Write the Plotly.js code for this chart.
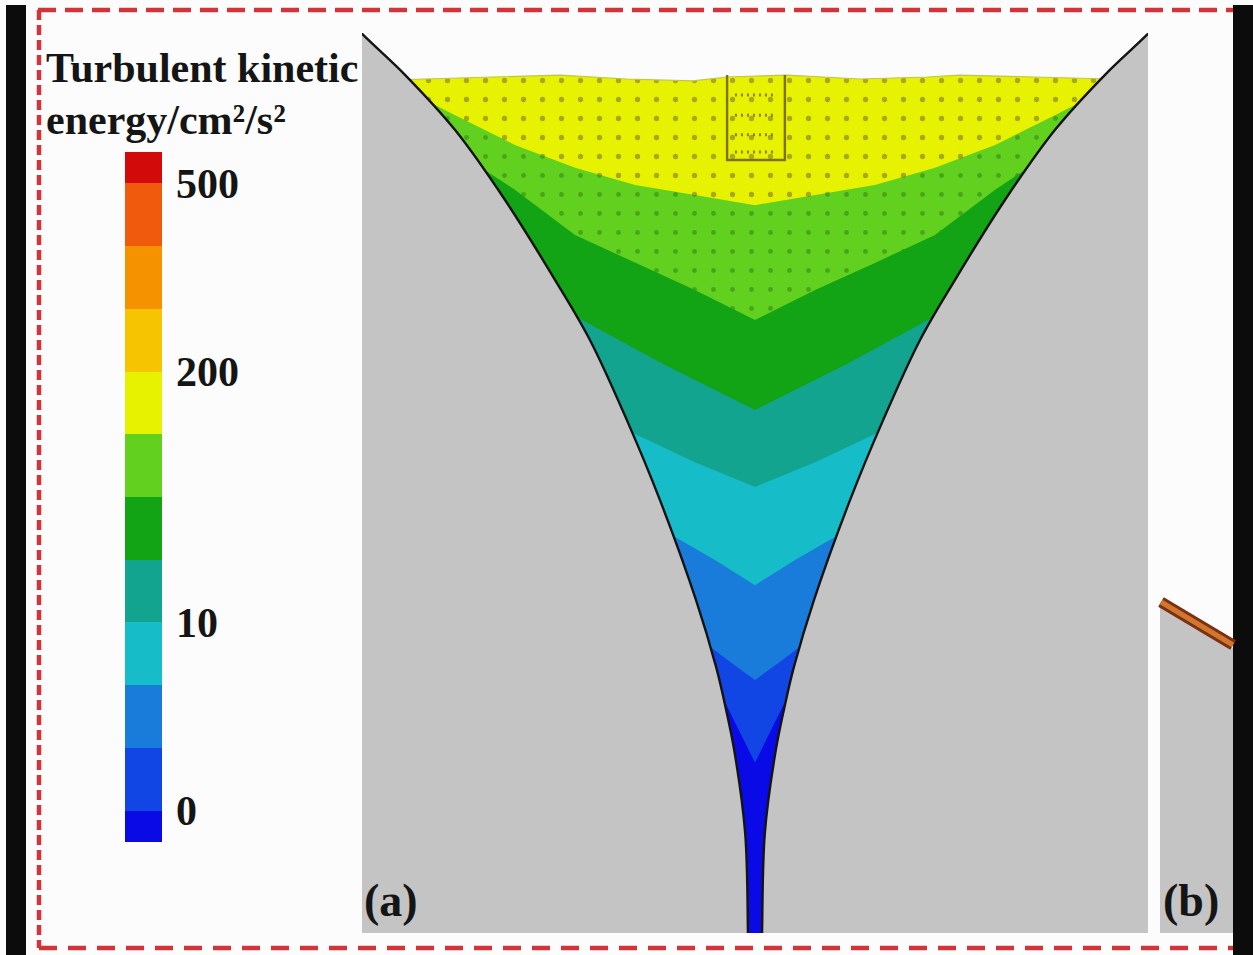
<!DOCTYPE html>
<html>
<head>
<meta charset="utf-8">
<script src="https://cdn.plot.ly/plotly-3.0.1.min.js"></script>
<style>
html,body{margin:0;padding:0;background:#fcfcfc;}
#chart{width:1253px;height:955px;}
</style>
</head>
<body>
<div id="chart"></div>
<script>
// ---------------- DATA ----------------
// Contour level colours of the legend, bottom (lowest) -> top (highest)
const levelColors = ['#0a0ae6', '#1246e4', '#1a7cda', '#16bcc8', '#12a48e', '#12a414',
                     '#62d01e', '#e6f200', '#f6c400', '#f59200', '#f05a0c', '#d20a0a'];
const legendRange = [0, 11];
const legendTickLevels = [0.5, 3.5, 7.5, 10.5];
const legendTickText = ['0', '10', '200', '500'];
const legendTitle1 = 'Turbulent kinetic';
const legendTitle2 = 'energy/cm\u00b2/s\u00b2';

// Vessel wall profile (radius r vs height z, top -> bottom)
const wallR = [11.1, 9.97, 8.90, 7.63, 6.36, 5.09, 4.20, 3.26, 2.42, 1.50, 0.99, 0.79, 0.53, 0.25, 0.18, 0.17];
const wallZ = [24.0, 22.85, 21.83, 20.43, 18.65, 16.62, 15.09, 13.05, 11.02, 8.47, 6.77, 5.93, 4.66, 2.54, 0.0, -1.0];

// Free surface of the liquid
const surfX = [-9.03, -6.67, -4.96, -3.26, -1.58, -0.71, 0.81, 2.67, 4.38, 5.22, 6.92, 9.03];
const surfZ = [21.71, 21.78, 21.83, 21.73, 21.68, 21.78, 21.83, 21.73, 21.78, 21.83, 21.78, 21.73];

// Contour band boundaries (r from axis outward, z)
const b1R = [0, 1.53, 3.05, 4.58, 6.11, 7.63, 8.40];          // light green | yellow
const b1Z = [18.52, 18.78, 19.03, 19.47, 20.05, 20.81, 21.20];
const b2R = [0, 1.53, 3.05, 4.58, 6.11, 6.87, 7.63];          // green | light green
const b2Z = [15.60, 16.36, 17.05, 17.76, 18.91, 19.41, 19.92];
const b3R = [0, 2.29, 4.40, 5.09];                            // teal | green
const b3Z = [13.31, 14.45, 15.60, 15.98];
const b4R = [0, 1.53, 3.00, 3.70];                            // cyan | teal
const b4Z = [11.35, 11.98, 12.67, 13.05];
const b5R = [0, 1.02, 1.90, 2.50];                            // light blue | cyan
const b5Z = [8.85, 9.49, 10.00, 10.31];
const b6R = [0, 0.64, 1.27, 1.70];                            // blue | light blue
const b6Z = [6.44, 6.90, 7.38, 7.71];
const b7R = [0, 0.41, 0.79, 1.15];                            // dark blue | blue
const b7Z = [4.33, 5.17, 5.93, 6.44];

// Impeller box and its inner rows
const boxX = [-0.71, -0.71, 0.76, 0.76];
const boxZ = [21.83, 19.67, 19.67, 21.83];
const rowZ = [21.32, 20.81, 20.31, 19.87];
const rowX = [-0.51, 0.56];

// ---------------- BUILD ----------------
const W = 1253, H = 955;
const px = v => v / W;
const py = v => 1 - v / H;
const FONT = 'Liberation Serif, Times New Roman, serif';

function aboveBoundary(R, Z) {
  const xs = [], zs = [];
  const n = R.length;
  xs.push(-13); zs.push(Z[n - 1]);
  for (let i = n - 1; i >= 1; i--) { xs.push(-R[i]); zs.push(Z[i]); }
  for (let i = 0; i < n; i++) { xs.push(R[i]); zs.push(Z[i]); }
  xs.push(13, 13, -13); zs.push(Z[n - 1], 26, 26);
  return {x: xs, y: zs};
}
function poly(p, color, extra) {
  return Object.assign({type: 'scatter', mode: 'lines', x: p.x, y: p.y, fill: 'toself',
    fillcolor: color, line: {width: 0, color: color}, hoverinfo: 'skip'}, extra || {});
}

const traces = [];
// base (lowest level)
traces.push(poly({x: [-13, 13, 13, -13], y: [-2, -2, 26, 26]}, levelColors[0]));
const bounds = [[b7R, b7Z], [b6R, b6Z], [b5R, b5Z], [b4R, b4Z], [b3R, b3Z], [b2R, b2Z], [b1R, b1Z]];
bounds.forEach((b, i) => {
  const c = levelColors[i + 1];
  let extra = {};
  if (i + 1 === 6) extra = {fillpattern: {shape: '.', size: 19, solidity: 0.05, fgcolor: '#48a418', bgcolor: c, fillmode: 'replace'}};
  if (i + 1 === 7) extra = {fillpattern: {shape: '.', size: 19, solidity: 0.06, fgcolor: '#a8a81e', bgcolor: c, fillmode: 'replace'}};
  traces.push(poly(aboveBoundary(b[0], b[1]), c, extra));
});
// air above the free surface
traces.push({type: 'scatter', mode: 'lines', fill: 'toself', fillcolor: '#fbfcfb',
  x: [-13].concat(surfX, [13, 13, -13]),
  y: [surfZ[0]].concat(surfZ, [surfZ[surfZ.length - 1], 26, 26]),
  line: {width: 1.2, color: '#c4c446'}, hoverinfo: 'skip'});
// grey masks outside the wall
const leftMaskX = [-13].concat(wallR.map(r => -r), [-13]);
const maskZ = [26].concat(wallZ, [-1]);
traces.push({type: 'scatter', mode: 'lines', fill: 'toself', fillcolor: '#c4c4c4',
  x: leftMaskX, y: maskZ, line: {width: 0, shape: 'spline', color: '#c4c4c4'}, hoverinfo: 'skip'});
traces.push({type: 'scatter', mode: 'lines', fill: 'toself', fillcolor: '#c4c4c4',
  x: leftMaskX.map(v => -v), y: maskZ, line: {width: 0, shape: 'spline', color: '#c4c4c4'}, hoverinfo: 'skip'});
// wall lines
traces.push({type: 'scatter', mode: 'lines', x: wallR.map(r => -r), y: wallZ,
  line: {width: 2.4, shape: 'spline', color: '#141414'}, hoverinfo: 'skip'});
traces.push({type: 'scatter', mode: 'lines', x: wallR, y: wallZ,
  line: {width: 2.4, shape: 'spline', color: '#141414'}, hoverinfo: 'skip'});
// impeller box
traces.push({type: 'scatter', mode: 'lines', x: boxX, y: boxZ,
  line: {width: 2.4, color: '#7e7014'}, hoverinfo: 'skip'});
rowZ.forEach(z => traces.push({type: 'scatter', mode: 'lines', x: rowX, y: [z, z],
  line: {width: 3, color: '#8e8218', dash: '2px,4px'}, hoverinfo: 'skip'}));

// colour legend (heatmap kept outside the visible range, only its colour bar shows)
const span = legendRange[1] - legendRange[0];
const cscale = [];
levelColors.forEach((c, i) => {
  const lo = Math.max(0, (i - 0.5) / span), hi = Math.min(1, (i + 0.5) / span);
  cscale.push([lo, c], [hi, c]);
});
traces.push({type: 'heatmap', x: [50, 51], y: [50], z: [[legendRange[0], legendRange[1]]],
  zmin: legendRange[0], zmax: legendRange[1], colorscale: cscale, hoverinfo: 'skip',
  colorbar: {x: px(125), xanchor: 'left', y: py(497), yanchor: 'middle',
    len: 690, lenmode: 'pixels', thickness: 37, thicknessmode: 'pixels',
    xpad: 0, ypad: 0, outlinewidth: 0, title: {text: ''},
    tickmode: 'array', tickvals: legendTickLevels, ticktext: legendTickText,
    ticks: 'outside', ticklen: 6, tickcolor: 'rgba(0,0,0,0)',
    tickfont: {family: FONT, size: 42, color: '#151515', weight: 'bold'}}});

const red = '#d2343a';
const shapes = [
  {type: 'rect', xref: 'paper', yref: 'paper', x0: px(6), x1: px(26), y0: py(955), y1: py(5), fillcolor: '#0c0c0c', line: {width: 0}},
  {type: 'rect', xref: 'paper', yref: 'paper', x0: px(1233), x1: px(1253), y0: py(955), y1: py(5), fillcolor: '#0c0c0c', line: {width: 0}},
  {type: 'line', xref: 'paper', yref: 'paper', x0: px(38), x1: px(1233), y0: py(10), y1: py(10), line: {color: red, width: 4.5, dash: '18px,9px'}},
  {type: 'line', xref: 'paper', yref: 'paper', x0: px(39), x1: px(39), y0: py(10), y1: py(948), line: {color: red, width: 4.5, dash: '10px,5px'}},
  {type: 'line', xref: 'paper', yref: 'paper', x0: px(39), x1: px(1233), y0: py(948), y1: py(948), line: {color: red, width: 4.5, dash: '18px,11px'}},
  {type: 'path', xref: 'paper', yref: 'paper',
    path: `M ${px(1160)},${py(604)} L ${px(1233)},${py(648)} L ${px(1233)},${py(933)} L ${px(1160)},${py(933)} Z`,
    fillcolor: '#c4c4c4', line: {width: 0}},
  {type: 'line', xref: 'paper', yref: 'paper', x0: px(1161), x1: px(1233), y0: py(602), y1: py(645), line: {color: '#7a3012', width: 11}},
  {type: 'line', xref: 'paper', yref: 'paper', x0: px(1161), x1: px(1233), y0: py(602), y1: py(645), line: {color: '#d2762e', width: 5}}
];

const tfont = {family: FONT, size: 42, color: '#151515', weight: 'bold'};
const annotations = [
  {text: legendTitle1, x: px(44), y: py(68), xref: 'paper', yref: 'paper', xanchor: 'left', yanchor: 'middle', showarrow: false, font: tfont},
  {text: legendTitle2, x: px(44), y: py(120), xref: 'paper', yref: 'paper', xanchor: 'left', yanchor: 'middle', showarrow: false, font: tfont},
  {text: '(a)', x: px(362), y: py(900), xref: 'paper', yref: 'paper', xanchor: 'left', yanchor: 'middle', showarrow: false, font: Object.assign({}, tfont, {size: 46})},
  {text: '(b)', x: px(1161), y: py(900), xref: 'paper', yref: 'paper', xanchor: 'left', yanchor: 'middle', showarrow: false, font: Object.assign({}, tfont, {size: 46})}
];

const layout = {
  width: W, height: H, margin: {l: 0, r: 0, t: 0, b: 0, pad: 0},
  paper_bgcolor: '#fcfcfc', plot_bgcolor: '#c4c4c4', showlegend: false,
  xaxis: {domain: [px(362), px(1148)], range: [-10, 10], visible: false, fixedrange: true},
  yaxis: {domain: [1 - 933 / H, 1 - 33 / H], range: [0, 22.9], visible: false, fixedrange: true},
  shapes: shapes, annotations: annotations
};
Plotly.newPlot('chart', traces, layout, {staticPlot: true, displayModeBar: false});
</script>
</body>
</html>
